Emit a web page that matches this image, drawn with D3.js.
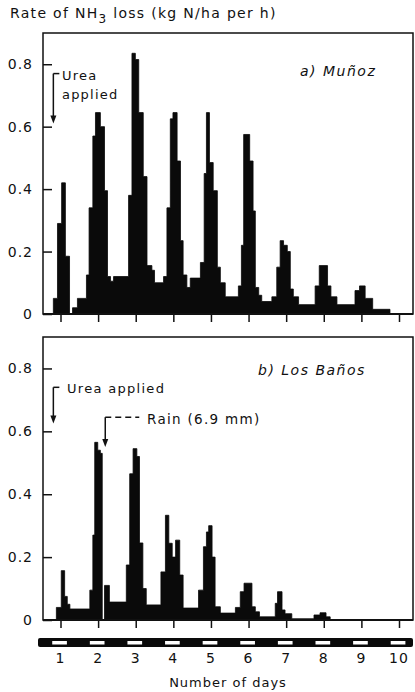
<!DOCTYPE html>
<html>
<head>
<meta charset="utf-8">
<script src="https://cdn.jsdelivr.net/npm/d3@7"></script>
<style>
  body { margin: 0; background: #fff; }
  svg text { font-family: "DejaVu Sans", sans-serif; fill: #111; }
</style>
</head>
<body>
<div id="chart"></div>
<script>
// days on the x axis, y ticks
const days = [1, 2, 3, 4, 5, 6, 7, 8, 9, 10];
const yTicks = [0, 0.2, 0.4, 0.6, 0.8];

// a) Munoz: step start times (days) + value of each step (last time = end)
const munozT = [0.81, 0.92, 1.03, 1.13, 1.24, 1.32, 1.45, 1.69, 1.76, 1.86, 1.93, 2.06, 2.17, 2.25, 2.33, 2.41,
  2.81, 2.90, 2.99, 3.08, 3.20, 3.30, 3.43, 3.50, 3.74, 3.83, 3.92, 3.99, 4.10, 4.19, 4.26, 4.36, 4.45,
  4.72, 4.82, 4.88, 4.96, 5.06, 5.17, 5.25, 5.38, 5.73, 5.81, 5.87, 6.03, 6.12, 6.18, 6.27, 6.35,
  6.62, 6.75, 6.84, 6.93, 7.03, 7.11, 7.19, 7.33, 7.77, 7.88, 8.10, 8.19, 8.35, 8.83, 8.95, 9.10, 9.30, 9.76];
const munozV = [0.05, 0.29, 0.42, 0.185, 0, 0.02, 0.05, 0.125, 0.34, 0.57, 0.645, 0.60, 0.395, 0.12, 0.105, 0.12,
  0.38, 0.835, 0.815, 0.645, 0.44, 0.155, 0.14, 0.10, 0.12, 0.34, 0.625, 0.645, 0.49, 0.235, 0.125, 0.085, 0.115,
  0.165, 0.45, 0.645, 0.485, 0.395, 0.15, 0.10, 0.055, 0.09, 0.22, 0.575, 0.49, 0.33, 0.085, 0.06, 0.04,
  0.055, 0.15, 0.235, 0.22, 0.20, 0.08, 0.055, 0.03, 0.09, 0.155, 0.09, 0.055, 0.03, 0.075, 0.09, 0.05, 0.015];

// b) Los Banos
const banosT = [0.89, 1.02, 1.11, 1.18, 1.25, 1.78, 1.86, 1.91, 1.99, 2.06, 2.11, 2.17, 2.30,
  2.75, 2.84, 2.93, 3.03, 3.10, 3.19, 3.28, 3.67, 3.79, 3.88, 3.97, 4.06, 4.17, 4.26,
  4.67, 4.80, 4.88, 4.94, 5.03, 5.11, 5.25, 5.65, 5.78, 5.88, 6.09, 6.18, 6.29,
  6.71, 6.77, 6.89, 6.97, 7.15, 7.74, 7.90, 8.06, 8.17];
const banosV = [0.04, 0.157, 0.075, 0.05, 0.035, 0.095, 0.27, 0.565, 0.54, 0.53, 0, 0.11, 0.057,
  0.175, 0.465, 0.545, 0.52, 0.245, 0.10, 0.048, 0.153, 0.333, 0.244, 0.20, 0.254, 0.143, 0.038,
  0.095, 0.233, 0.28, 0.30, 0.20, 0.042, 0.022, 0.04, 0.09, 0.117, 0.042, 0.026, 0.01,
  0.053, 0.09, 0.032, 0.02, 0.004, 0.016, 0.023, 0.01];

const W = 415, H = 692;
const left = 43, right = 413;

const svg = d3.select("#chart").append("svg")
  .attr("width", W).attr("height", H);

const x = d3.scaleLinear().domain([1, 10]).range([60.5, 399]);

function panel(T, V, top, bottom, label, notes) {
  const y = d3.scaleLinear().domain([0, 0.9]).range([bottom, top]);
  const g = svg.append("g");

  const pts = T.map((t, i) => [t, i < V.length ? V[i] : 0]);
  const area = d3.area()
    .x(d => x(d[0]))
    .y0(y(0))
    .y1(d => y(d[1]))
    .curve(d3.curveStepAfter);
  // thin stroke to mimic the ink spread of the printed bars
  g.append("path").datum(pts).attr("d", area)
    .attr("fill", "#0a0a0a").attr("stroke", "#0a0a0a").attr("stroke-width", 0.8)
    .attr("stroke-linejoin", "miter");

  g.append("rect")
    .attr("x", left).attr("y", top)
    .attr("width", right - left).attr("height", bottom - top)
    .attr("fill", "none").attr("stroke", "#111").attr("stroke-width", 1.5);

  const yAxis = d3.axisLeft(y).tickValues(yTicks).tickSize(-9).tickPadding(10)
    .tickFormat(d => d === 0 ? "0" : d3.format(".1f")(d));
  const ya = g.append("g").attr("transform", `translate(${left},0)`).call(yAxis);
  ya.select(".domain").remove();
  ya.selectAll("line").attr("stroke", "#111").attr("stroke-width", 1.5);
  ya.selectAll("text").attr("font-size", 14).attr("letter-spacing", 1)
    .style("font-family", "DejaVu Sans").attr("fill", "#111");

  const xAxis = d3.axisBottom(x).tickValues(days).tickSize(8).tickFormat("");
  const xa = g.append("g").attr("transform", `translate(0,${bottom})`).call(xAxis);
  xa.select(".domain").remove();
  xa.selectAll("line").attr("stroke", "#111").attr("stroke-width", 1.5);

  g.append("line").attr("x1", left).attr("x2", right)
    .attr("y1", y(0)).attr("y2", y(0)).attr("stroke", "#111").attr("stroke-width", 2);

  g.append("text").attr("x", label.x).attr("y", label.y)
    .attr("font-size", 14).attr("font-style", "italic").attr("letter-spacing", 1.5)
    .text(label.text);

  notes(g, y);
  return y;
}

function arrow(g, xd, y0, y1) {
  g.append("line").attr("x1", xd).attr("x2", xd).attr("y1", y0).attr("y2", y1 - 6)
    .attr("stroke", "#111").attr("stroke-width", 1.5);
  g.append("path")
    .attr("d", `M${xd - 3},${y1 - 8} L${xd + 3},${y1 - 8} L${xd},${y1} Z`)
    .attr("fill", "#111");
}

// a) Munoz
panel(munozT, munozV, 33, 314, { x: 300, y: 76, text: "a) Muñoz" }, (g, y) => {
  const ux = x(0.81);
  g.append("line").attr("x1", ux).attr("x2", ux + 6).attr("y1", y(0.77)).attr("y2", y(0.77))
    .attr("stroke", "#111").attr("stroke-width", 1.5);
  arrow(g, ux, y(0.77), y(0.61));
  g.append("text").attr("x", 62).attr("y", 80).attr("font-size", 13).attr("letter-spacing", 1.2).text("Urea");
  g.append("text").attr("x", 62).attr("y", 99).attr("font-size", 13).attr("letter-spacing", 1.2).text("applied");
});

// b) Los Banos
panel(banosT, banosV, 337, 620, { x: 258, y: 375, text: "b) Los Baños" }, (g, y) => {
  const ux = x(0.81);
  g.append("line").attr("x1", ux).attr("x2", ux + 6).attr("y1", y(0.74)).attr("y2", y(0.74))
    .attr("stroke", "#111").attr("stroke-width", 1.5);
  arrow(g, ux, y(0.74), y(0.625));
  g.append("text").attr("x", 67).attr("y", 393).attr("font-size", 13).attr("letter-spacing", 1.3).text("Urea applied");

  const rx = x(2.19);
  g.append("line").attr("x1", rx).attr("x2", rx + 34).attr("y1", y(0.645)).attr("y2", y(0.645))
    .attr("stroke", "#111").attr("stroke-width", 1.5).attr("stroke-dasharray", "6,4");
  arrow(g, rx, y(0.645), y(0.55));
  g.append("text").attr("x", 147).attr("y", 424).attr("font-size", 13.5).attr("letter-spacing", 1.3).text("Rain (6.9 mm)");
});

// day / night bar
svg.append("rect").attr("x", 38).attr("y", 638).attr("width", right - 38).attr("height", 9)
  .attr("fill", "#0a0a0a").attr("rx", 2);
svg.append("g").selectAll("rect").data(days).join("rect")
  .attr("x", d => x(d - 0.22)).attr("width", d => x(d + 0.17) - x(d - 0.22))
  .attr("y", 641).attr("height", 3.5).attr("fill", "#fff");

// day labels
svg.append("g").selectAll("text").data(days).join("text")
  .attr("x", d => x(d)).attr("y", 663).attr("text-anchor", "middle")
  .attr("font-size", 14).attr("letter-spacing", 1)
  .text(d => d);

svg.append("text").attr("x", (left + right) / 2).attr("y", 687).attr("text-anchor", "middle")
  .attr("font-size", 13).attr("letter-spacing", 1).text("Number of days");

// y title with subscript
const title = svg.append("text").attr("x", 10).attr("y", 18).attr("font-size", 14).attr("letter-spacing", 1.3);
title.append("tspan").text("Rate of NH");
title.append("tspan").attr("dy", 5).attr("font-size", 12).text("3");
title.append("tspan").attr("dy", -5).text(" loss (kg N/ha per h)");
</script>
</body>
</html>
